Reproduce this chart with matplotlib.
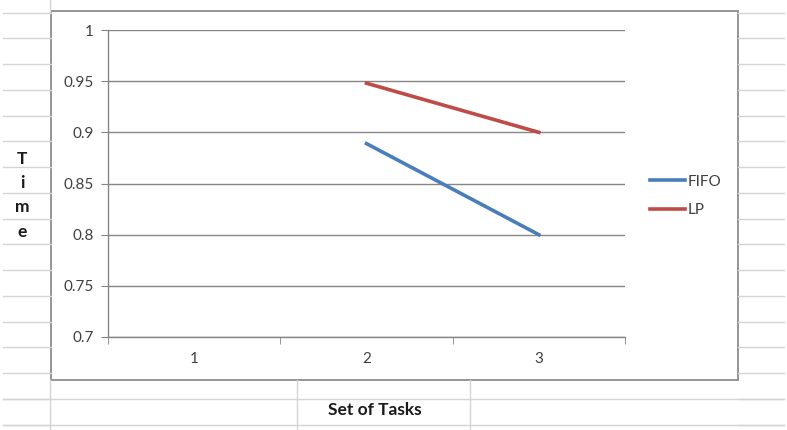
import numpy as np
import matplotlib.pyplot as plt
from matplotlib.lines import Line2D
from matplotlib.patches import Rectangle

categories = ["1", "2", "3"]
fifo = [np.nan, 0.889, 0.80]
lp = [np.nan, 0.948, 0.90]
y_ticks = [0.7, 0.75, 0.8, 0.85, 0.9, 0.95, 1]

W, H = 787, 430
plt.rcParams['font.family'] = ['Lato', 'DejaVu Sans']

fig = plt.figure(figsize=(W / 100, H / 100), dpi=100)
fig.patch.set_facecolor("white")

def px(x, y):
    return x / W, 1 - y / H

# spreadsheet cell lines behind the chart
cell = "#d4d4d4"
rows = [12.7 + 25.75 * i for i in range(17)]
for r in rows:
    for x0, x1 in [(3, 51), (738, 784)]:
        (a, b), (c, d) = px(x0, r), px(x1, r)
        fig.add_artist(Line2D([a, c], [b, d], color=cell, lw=1))
    if r > 385:
        (a, b), (c, d) = px(3, r), px(784, r)
        fig.add_artist(Line2D([a, c], [b, d], color=cell, lw=1))
for cx in [50, 297, 470]:
    (a, b), (c, d) = px(cx, 380), px(cx, 430)
    fig.add_artist(Line2D([a, c], [b, d], color=cell, lw=1))
(a, b), (c, d) = px(50, 0), px(50, 12)
fig.add_artist(Line2D([a, c], [b, d], color=cell, lw=1))

# chart area box
x0, y0 = px(51, 380)
x1, y1 = px(738, 11)
fig.add_artist(Rectangle((x0, y0), x1 - x0, y1 - y0, transform=fig.transFigure,
                         facecolor="white", edgecolor="#8c8c8c", lw=1.3, zorder=1))

ax = fig.add_axes([108 / W, 1 - 337 / H, 517 / W, 307 / H], zorder=2)
ax.set_facecolor("none")
x = np.arange(1, len(categories) + 1)
ax.plot(x, fifo, color="#4a7ebb", lw=2.6, label="FIFO")
ax.plot(x, lp, color="#be4b48", lw=2.6, label="LP")

ax.set_xlim(0.5, 3.5)
ax.set_ylim(0.7, 1.0)
ax.set_yticks(y_ticks)
ax.set_yticklabels([f"{t:g}" for t in y_ticks])
ax.set_xticks(x)
ax.set_xticklabels(categories)
ax.set_xticks([0.5, 1.5, 2.5, 3.5], minor=True)
ax.tick_params(axis="x", which="major", length=0, pad=11, labelsize=11, labelcolor="#404040")
ax.tick_params(axis="x", which="minor", length=5, color="#868686", direction="out")
ax.tick_params(axis="y", length=5, color="#868686", pad=5, labelsize=11, labelcolor="#404040")
ax.grid(axis="y", color="#868686", lw=1)
ax.set_axisbelow(True)
for s in ["top", "right"]:
    ax.spines[s].set_visible(False)
for s in ["left", "bottom"]:
    ax.spines[s].set_color("#868686")
    ax.spines[s].set_linewidth(1)

fig.legend(loc="center left", bbox_to_anchor=px(650, 196), frameon=False,
           borderpad=0, borderaxespad=0,
           handlelength=2.3, handletextpad=0.15, labelspacing=0.95,
           prop={"size": 11}, labelcolor="#404040")

# axis titles sit in the spreadsheet cells
for ch, yy in zip("Time", [159, 183, 207, 232]):
    fig.text(*px(22, yy), ch, ha="center", va="center", fontsize=12.5,
             fontweight="bold", color="#1a1a1a")
fig.text(*px(375, 410), "Set of Tasks", ha="center", va="center", fontsize=12.5,
         fontweight="bold", color="#1a1a1a")

fig.savefig("out.png", dpi=100)
